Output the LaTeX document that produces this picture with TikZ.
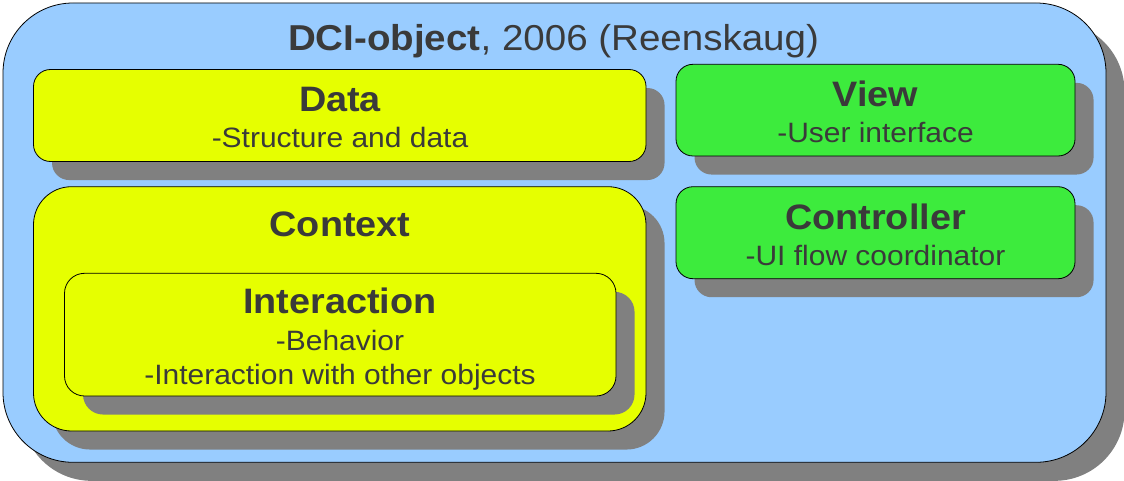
\documentclass[tikz,border=0pt]{standalone}
\usepackage{fontspec}
\setmainfont[FakeStretch=1.07]{Liberation Sans}
\usetikzlibrary{shadows}

\definecolor{dciblue}{HTML}{99CCFF}
\definecolor{dciyellow}{HTML}{E6FF00}
\definecolor{dcigreen}{HTML}{3DEB3D}
\definecolor{dcishadow}{HTML}{808080}
\definecolor{dcitext}{HTML}{3A3A3A}

\begin{document}
\begin{tikzpicture}[x=0.75pt, y=-0.75pt,
    box/.style={draw, line width=0.6pt, inner sep=0pt, outer sep=0pt, anchor=north west,
        drop shadow={shadow xshift=13.9pt, shadow yshift=-13.9pt, fill=dcishadow, opacity=1}},
    boxsize/.style 2 args={minimum width=#1*0.75pt, minimum height=#2*0.75pt},
    heading/.style={anchor=base, inner sep=0pt, text=dcitext, font=\fontsize{26.5}{30}\selectfont\bfseries},
    sub/.style={anchor=base, inner sep=0pt, text=dcitext, align=center, font=\fontsize{21}{25.5}\selectfont}]
    \useasboundingbox (0, 0) rectangle (1124, 481);

    \node at (3, 3) [box, fill=dciblue, rounded corners=52.5pt, boxsize={1103}{459.3}] (dci) {};
    \node at (553.5, 50.7) [heading, font=\fontsize{27}{30}\selectfont\bfseries] (title) {DCI-object\mdseries, 2006 (Reenskaug)};

    \node at (33.5, 69.5) [box, fill=dciyellow, rounded corners=12.75pt, boxsize={612.5}{92}] (data) {};
    \node at (340, 111.7) [heading] (datahd) {Data};
    \node at (340, 147.7) [sub] (datasub) {-Structure and data};

    \node at (676, 64.3) [box, fill=dcigreen, rounded corners=12.75pt, boxsize={399}{91.7}] (view) {};
    \node at (875.5, 106.7) [heading] (viewhd) {View};
    \node at (875.5, 142.7) [sub] (viewsub) {-User interface};

    \node at (676, 186.7) [box, fill=dcigreen, rounded corners=12.75pt, boxsize={399}{92}] (ctrl) {};
    \node at (875.5, 229) [heading] (ctrlhd) {Controller};
    \node at (875.5, 265) [sub] (ctrlsub) {-UI flow coordinator};

    \node at (33.5, 186.7) [box, fill=dciyellow, rounded corners=28.5pt, boxsize={612.5}{244.3}] (ctx) {};
    \node at (340, 236) [heading] (ctxhd) {Context};

    \node at (64.5, 273.3) [box, fill=dciyellow, rounded corners=15pt, boxsize={551.5}{122.7}] (inter) {};
    \node at (340, 313) [heading] (interhd) {Interaction};
    \node at (340, 384) [sub] (intersub) {-Behavior\\-Interaction with other objects};
\end{tikzpicture}
\end{document}
